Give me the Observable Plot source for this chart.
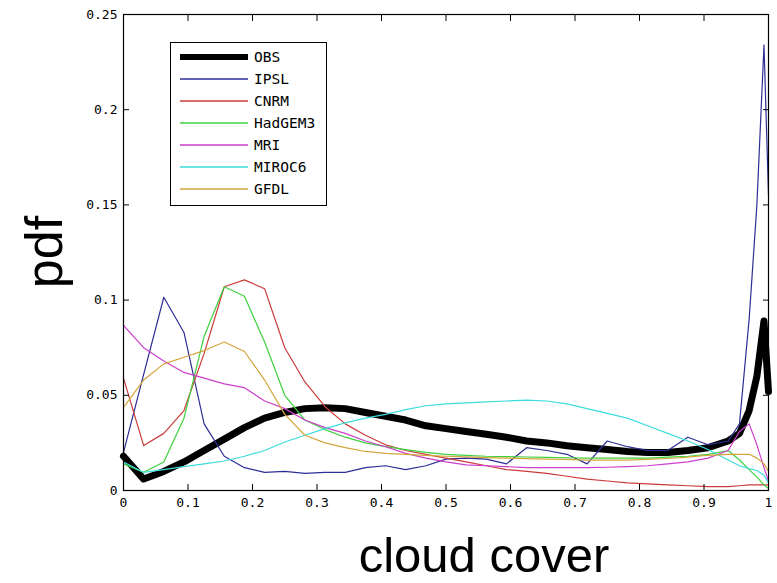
<!DOCTYPE html>
<html><head><meta charset="utf-8">
<script src="https://cdn.jsdelivr.net/npm/d3@7"></script>
<script src="https://cdn.jsdelivr.net/npm/@observablehq/plot@0.6"></script>
<style>
body{margin:0;background:#fff;}
#wrap{position:relative;width:777px;height:583px;overflow:hidden;background:#fff;}
#legend{position:absolute;left:170px;top:42px;}
</style></head><body><div id="wrap"></div>
<script>
const xs = [0, 0.03125, 0.0625, 0.09375, 0.125, 0.15625, 0.1875, 0.21875, 0.25, 0.28125, 0.3125, 0.34375, 0.375, 0.40625, 0.4375, 0.46875, 0.5, 0.53125, 0.5625, 0.59375, 0.625, 0.65625, 0.6875, 0.71875, 0.75, 0.78125, 0.8125, 0.84375, 0.875, 0.90625, 0.9375, 0.955, 0.97, 0.982, 0.993, 1];
const obs = [0.018, 0.006, 0.010, 0.015, 0.021, 0.027, 0.033, 0.038, 0.041, 0.043, 0.0435, 0.043, 0.041, 0.039, 0.037, 0.034, 0.0325, 0.031, 0.0295, 0.028, 0.026, 0.025, 0.0235, 0.0225, 0.0215, 0.0205, 0.020, 0.020, 0.021, 0.0225, 0.026, 0.030, 0.042, 0.060, 0.089, 0.052];
const ipsl = [0.020, 0.061, 0.1015, 0.083, 0.035, 0.018, 0.012, 0.0095, 0.010, 0.009, 0.0095, 0.0095, 0.012, 0.013, 0.011, 0.013, 0.0165, 0.017, 0.0165, 0.014, 0.0225, 0.021, 0.019, 0.014, 0.026, 0.023, 0.021, 0.021, 0.028, 0.024, 0.026, 0.035, 0.09, 0.15, 0.234, 0.155];
const cnrm = [0.059, 0.0236, 0.030, 0.042, 0.072, 0.107, 0.1106, 0.106, 0.075, 0.057, 0.044, 0.035, 0.029, 0.024, 0.021, 0.019, 0.017, 0.015, 0.013, 0.011, 0.010, 0.009, 0.0075, 0.006, 0.005, 0.004, 0.0035, 0.003, 0.0025, 0.002, 0.002, 0.0025, 0.003, 0.003, 0.003, 0.003];
const hadgem3 = [0.014, 0.0096, 0.015, 0.038, 0.081, 0.107, 0.102, 0.078, 0.050, 0.037, 0.032, 0.028, 0.025, 0.023, 0.0215, 0.020, 0.019, 0.0185, 0.018, 0.0178, 0.0176, 0.0174, 0.0172, 0.017, 0.017, 0.017, 0.017, 0.0175, 0.018, 0.019, 0.021, 0.016, 0.011, 0.007, 0.003, 0.001];
const mri = [0.0867, 0.075, 0.068, 0.062, 0.059, 0.056, 0.054, 0.047, 0.043, 0.037, 0.033, 0.030, 0.026, 0.023, 0.0195, 0.017, 0.015, 0.0135, 0.013, 0.0125, 0.012, 0.012, 0.012, 0.012, 0.0122, 0.0125, 0.013, 0.014, 0.015, 0.017, 0.021, 0.031, 0.035, 0.024, 0.012, 0.005];
const miroc6 = [0.015, 0.0095, 0.011, 0.0125, 0.014, 0.0155, 0.018, 0.021, 0.0255, 0.029, 0.0325, 0.0355, 0.038, 0.040, 0.0425, 0.0445, 0.0455, 0.046, 0.0465, 0.047, 0.0475, 0.047, 0.0455, 0.043, 0.0405, 0.038, 0.034, 0.030, 0.026, 0.0215, 0.016, 0.013, 0.0115, 0.0105, 0.008, 0.004];
const gfdl = [0.0437, 0.058, 0.0665, 0.070, 0.0735, 0.078, 0.073, 0.058, 0.040, 0.029, 0.025, 0.0225, 0.0205, 0.0195, 0.019, 0.0185, 0.018, 0.0177, 0.0173, 0.017, 0.0167, 0.0165, 0.0163, 0.016, 0.016, 0.016, 0.0163, 0.0168, 0.0175, 0.0185, 0.019, 0.019, 0.019, 0.017, 0.014, 0.010];

const seriesNames = ["OBS", "IPSL", "CNRM", "HadGEM3", "MRI", "MIROC6", "GFDL"];
const seriesValues = [obs, ipsl, cnrm, hadgem3, mri, miroc6, gfdl];
const seriesColors = ["#000000", "#2e2e96", "#cc3b3b", "#3dd23d", "#cc3fcc", "#3ddcdc", "#d4a53c"];
const seriesWidths = [7, 1.2, 1.2, 1.2, 1.2, 1.2, 1.2];
const xTicks = [0, 0.1, 0.2, 0.3, 0.4, 0.5, 0.6, 0.7, 0.8, 0.9, 1];
const yTicks = [0, 0.05, 0.1, 0.15, 0.2, 0.25];
const xLabel = "cloud cover";
const yLabel = "pdf";

const lineMarks = seriesNames.map((name, si) =>
  Plot.line(xs.map((x, i) => ({x, y: seriesValues[si][i]})), {
    x: "x", y: "y", stroke: seriesColors[si], strokeWidth: seriesWidths[si], strokeLinejoin: "round"
  })
);
const fmt = d => String(d);

const plot = Plot.plot({
  width: 777, height: 583,
  marginLeft: 123, marginRight: 9, marginTop: 14, marginBottom: 93,
  x: {domain: [0, 1]},
  y: {domain: [0, 0.25]},
  style: {fontFamily: "'DejaVu Sans Mono', monospace", fontSize: "13px", color: "#000", background: "#fff"},
  marks: [
    ...lineMarks,
    Plot.frame({stroke: "#000", strokeWidth: 1.2}),
    Plot.axisX({anchor: "bottom", ticks: xTicks, tickSize: -6, tickPadding: 13, tickFormat: fmt, label: null}),
    Plot.axisX({anchor: "top", ticks: xTicks, tickSize: -6, tickFormat: () => "", label: null}),
    Plot.axisY({anchor: "left", ticks: yTicks, tickSize: -6, tickPadding: 12, tickFormat: fmt, label: null}),
    Plot.axisY({anchor: "right", ticks: yTicks, tickSize: -6, tickFormat: () => "", label: null})
  ]
});

const svg = d3.select(plot);
svg.append("text").attr("x", 484).attr("y", 572).attr("text-anchor", "middle")
  .attr("font-family", "'Liberation Sans', Arial, sans-serif").attr("font-size", 49).attr("fill", "#000").text(xLabel);
svg.append("text").attr("transform", "translate(62,252) rotate(-90)").attr("text-anchor", "middle")
  .attr("font-family", "'Liberation Sans', Arial, sans-serif").attr("font-size", 52).attr("fill", "#000").text(yLabel);

document.getElementById("wrap").appendChild(plot);

// legend
const lg = d3.select("#wrap").append("svg").attr("id", "legend").attr("width", 157).attr("height", 164);
lg.append("rect").attr("x", 0.5).attr("y", 0.5).attr("width", 156).attr("height", 163).attr("fill", "#fff").attr("stroke", "#000");
const rowYs = [15, 37, 59, 81, 103, 125, 147];
seriesNames.forEach((name, i) => {
  lg.append("line").attr("x1", 10).attr("x2", 78).attr("y1", rowYs[i]).attr("y2", rowYs[i])
    .style("stroke", seriesColors[i]).style("stroke-width", i === 0 ? 6 : 1.5);
  lg.append("text").attr("x", 84).attr("y", rowYs[i]).attr("dy", "0.36em")
    .attr("font-family", "'DejaVu Sans Mono', monospace").attr("font-size", 14.5).attr("fill", "#000").text(name);
});
</script></body></html>
